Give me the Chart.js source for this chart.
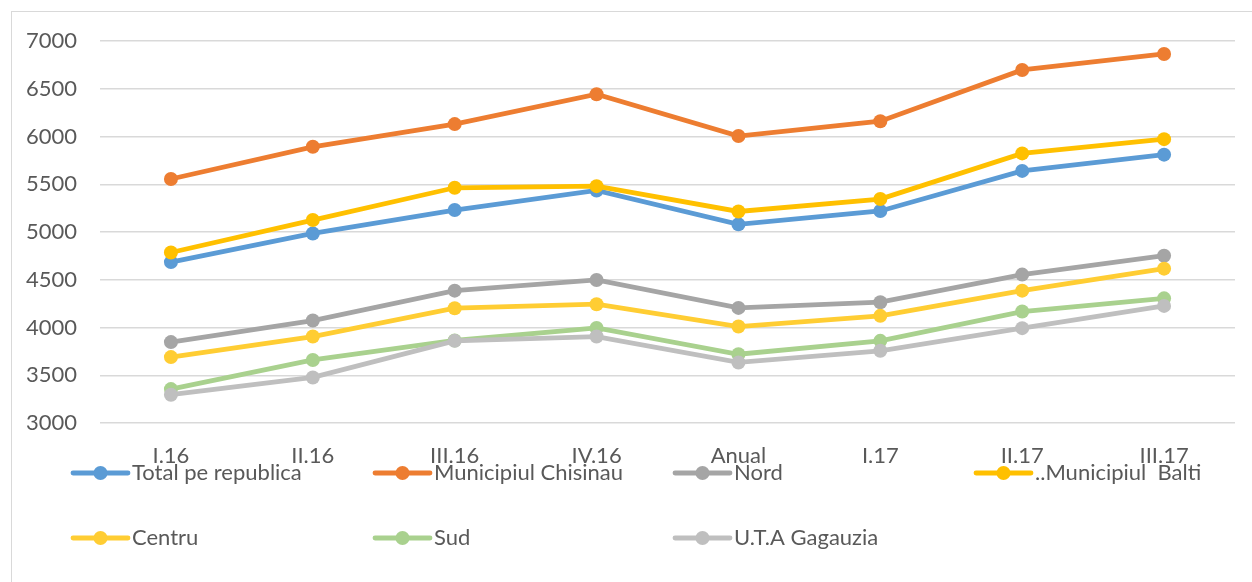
<!DOCTYPE html>
<html>
<head>
<meta charset="utf-8">
<script src="https://cdn.jsdelivr.net/npm/chart.js@4"></script>
<style>
  html, body { margin: 0; padding: 0; background: #fff; overflow: hidden; }
  #wrap { position: relative; width: 1252px; height: 582px; }
  #frame { position: absolute; left: 11px; top: 11px; width: 1300px; height: 640px; border: 1px solid #d9d9d9; box-sizing: border-box; }
</style>
</head>
<body>
<div id="wrap">
  <div id="frame"></div>
  <canvas id="myChart" width="1252" height="582"></canvas>
</div>
<script>
// trimestrele
const labels = ['I.16', 'II.16', 'III.16', 'IV.16', 'Anual', 'I.17', 'II.17', 'III.17'];

// valori
const totalRepublica = [4685, 4985, 5230, 5435, 5080, 5220, 5640, 5810];
const chisinau       = [5555, 5892, 6130, 6443, 6005, 6160, 6697, 6864];
const nord           = [3847, 4073, 4386, 4498, 4205, 4265, 4554, 4752];
const balti          = [4785, 5125, 5463, 5480, 5215, 5345, 5823, 5972];
const centru         = [3690, 3905, 4202, 4244, 4010, 4122, 4386, 4616];
const sud            = [3355, 3660, 3864, 3995, 3720, 3860, 4167, 4305];
const gagauzia       = [3296, 3477, 3860, 3905, 3634, 3756, 3993, 4226];

const yTicks = [3000, 3500, 4000, 4500, 5000, 5500, 6000, 6500, 7000];

const FONT = 'Lato, "Open Sans", sans-serif';
const FSIZE = 22;
const TXT = '#595959';

const series = [
  {label: 'Total pe republica', data: totalRepublica, color: '#5B9BD5'},
  {label: 'Municipiul Chisinau', data: chisinau, color: '#ED7D31'},
  {label: 'Nord', data: nord, color: '#A5A5A5'},
  {label: '..Municipiul  Balti', data: balti, color: '#FFC000'},
  {label: 'Centru', data: centru, color: '#FFCD33'},
  {label: 'Sud', data: sud, color: '#A9D18E'},
  {label: 'U.T.A Gagauzia', data: gagauzia, color: '#BFBFBF'}
];

const data = {
  labels: labels,
  datasets: series.map((s, i) => ({
    label: s.label,
    data: s.data,
    borderColor: s.color,
    backgroundColor: s.color,
    borderWidth: 4.8,
    pointRadius: 7,
    pointHoverRadius: 7,
    pointBorderWidth: 0,
    tension: 0,
    order: series.length - 1 - i   // seriile de mai tarziu deasupra, ca in Excel
  }))
};

// legenda desenata manual, pe doua randuri ca in original
const legendPlugin = {
  id: 'excelLegend',
  afterDraw(chart) {
    const ctx = chart.ctx;
    const cols = [73, 375, 675, 976];
    const rows = [473, 538];
    ctx.save();
    chart.data.datasets.forEach((ds, i) => {
      const x = cols[i % 4];
      const y = rows[Math.floor(i / 4)];
      ctx.strokeStyle = ds.borderColor;
      ctx.lineWidth = 4.8;
      ctx.lineCap = 'round';
      ctx.beginPath();
      ctx.moveTo(x, y);
      ctx.lineTo(x + 55, y);
      ctx.stroke();
      ctx.fillStyle = ds.borderColor;
      ctx.beginPath();
      ctx.arc(x + 27.5, y, 7, 0, Math.PI * 2);
      ctx.fill();
      ctx.fillStyle = TXT;
      ctx.font = FSIZE + 'px ' + FONT;
      ctx.textBaseline = 'middle';
      ctx.textAlign = 'left';
      ctx.fillText(ds.label, x + 59, y);
    });
    ctx.restore();
  }
};

const config = {
  type: 'line',
  data: data,
  options: {
    responsive: false,
    animation: false,
    layout: { padding: { top: 41, right: 17, left: 0, bottom: 0 } },
    plugins: { legend: { display: false }, tooltip: { enabled: false } },
    scales: {
      x: {
        offset: true,
        grid: { display: false },
        border: { display: false },
        ticks: { color: TXT, font: { family: FONT, size: FSIZE }, padding: 12, maxRotation: 0 },
        afterFit: s => { s.height = 159; }
      },
      y: {
        min: 3000,
        max: 7000,
        afterBuildTicks: s => { s.ticks = yTicks.map(v => ({value: v})); },
        grid: { color: '#d9d9d9', lineWidth: 1.5, drawTicks: false },
        border: { display: false },
        ticks: { color: TXT, font: { family: FONT, size: FSIZE }, padding: 23, callback: v => String(v) },
        afterFit: s => { s.width = 100; }
      }
    }
  },
  plugins: [legendPlugin]
};

const myChart = new Chart(document.getElementById('myChart'), config);
</script>
</body>
</html>
